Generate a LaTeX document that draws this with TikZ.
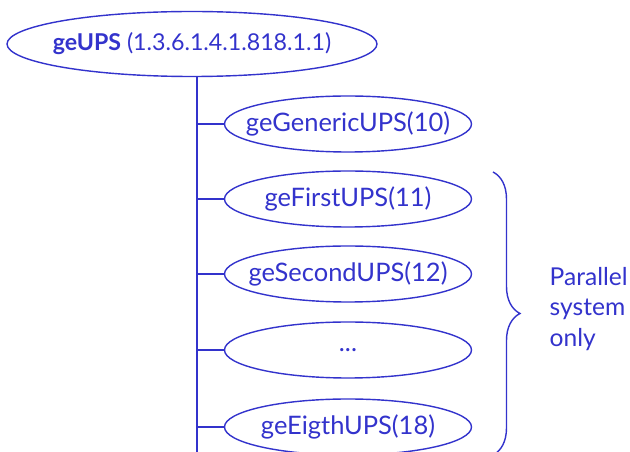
\documentclass[tikz,border=0pt]{standalone}
\usepackage{fontspec}
\setmainfont{Lato}
\usepackage{tikz}
\usetikzlibrary{shapes.geometric,decorations.pathreplacing,calc}
\definecolor{upsblue}{RGB}{51,51,204}

\begin{document}
\begin{tikzpicture}[
    font=\fontsize{14}{17.6}\selectfont,
    upsblue, line width=0.8pt,
    root/.style={ellipse, draw, text=upsblue, font=\fontsize{13.2}{16}\selectfont,
        minimum width=7.4cm, minimum height=1.3cm, inner ysep=0pt, inner xsep=-0.4cm},
    oid/.style={ellipse, draw, text=upsblue, font=\fontsize{14.5}{16}\selectfont,
        minimum width=4.94cm, minimum height=1.12cm, inner ysep=0pt, inner xsep=-0.4cm}
]
    \useasboundingbox (0,0) rectangle (12.6,-9.04);
    \clip (0,0) rectangle (12.6,-9.04);

    % Root
    \node[root] (geups) at (3.84,-0.88) {\textbf{geUPS} (1.3.6.1.4.1.818.1.1)};

    % Children
    \node[oid] (generic) at (6.96,-2.48) {geGenericUPS(10)};
    \node[oid] (first) at (6.96,-3.98) {geFirstUPS(11)};
    \node[oid] (second) at (6.96,-5.48) {geSecondUPS(12)};
    \node[oid] (dots) at (6.96,-7.0) {...};
    \node[oid] (eigth) at (6.96,-8.54) {geEigthUPS(18)};

    % Trunk
    \coordinate (trunk) at (3.94,-9.2);
    \draw (geups.south -| trunk) -- (trunk);
    \foreach \n in {generic,first,second,dots,eigth}
        \draw (\n.west -| trunk) -- (\n.west);

    % Parallel systems
    \coordinate (btop) at (9.86,-3.44);
    \coordinate (bbot) at (9.86,-9.1);
    \draw[decorate, decoration={brace, amplitude=0.54cm}] (btop) -- (bbot);
    \node[text=upsblue, align=left, anchor=west, inner sep=0pt] (parallel) at (10.98,-6.18) {Parallel\\system\\only};
\end{tikzpicture}
\end{document}
